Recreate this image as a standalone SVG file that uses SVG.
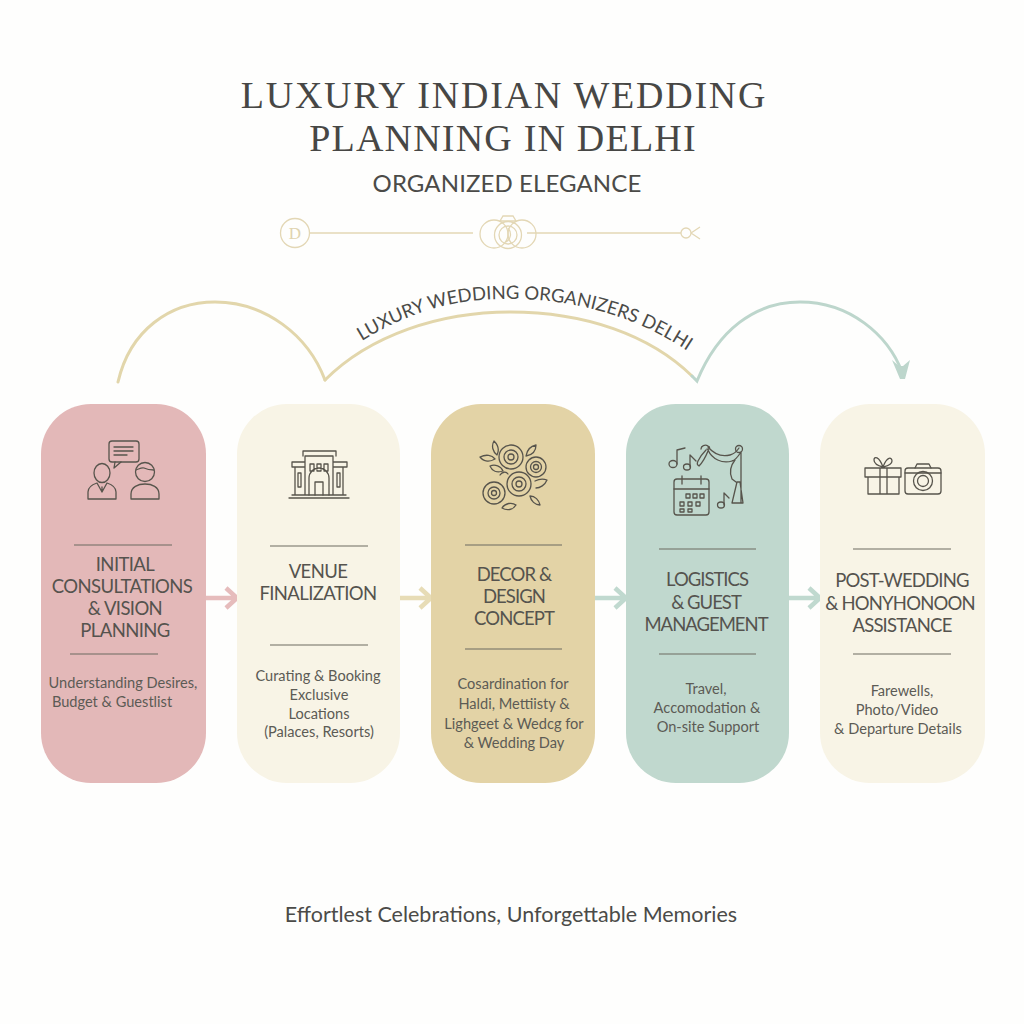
<svg xmlns="http://www.w3.org/2000/svg" width="1024" height="1024" viewBox="0 0 1024 1024">
<style>
text{font-family:"Lato","Liberation Sans",sans-serif;text-anchor:middle;fill:#4b4b48}
.t{font-family:"Liberation Serif","DejaVu Serif",serif;font-size:38px;fill:#474745}
.h{font-size:18.5px;fill:#55534e;letter-spacing:-0.6px}
.b{font-size:14.6px;fill:#5c5b55}
.d{stroke:#6d6a61;stroke-width:1.2;fill:none}
.i{fill:none;stroke:#57544c;stroke-width:1.3;stroke-linejoin:round;stroke-linecap:round}
.g{fill:none;stroke:#e3d7b5;stroke-width:1.3}
.arc{fill:none;stroke-width:3;stroke-linecap:round}
.ar{fill:none;stroke-width:4.5;stroke-linecap:butt}
</style>
<rect width="1024" height="1024" fill="#fefefd"/>
<g id="title">
<text class="t" x="504" y="108" letter-spacing="1.75">LUXURY INDIAN WEDDING</text>
<text class="t" x="503" y="151" letter-spacing="1.2">PLANNING IN DELHI</text>
<text x="507" y="192" font-size="24" fill="#5c5c5a" letter-spacing="0.1">ORGANIZED ELEGANCE</text>
</g>
<g id="ornament">
<circle class="g" cx="295" cy="233" r="14.5"/>
<text x="295" y="239" font-size="17" style="font-family:'Liberation Serif',serif;fill:#e0d4b0">D</text>
<path class="g" d="M310 233H473M527 233H681" stroke-width="1.6"/>
<circle class="g" cx="494" cy="234" r="14"/>
<circle class="g" cx="522" cy="234" r="14"/>
<circle class="g" cx="508" cy="235" r="13.5"/>
<circle class="g" cx="508" cy="235" r="9"/>
<path class="g" d="M500 221l3-5h10l3 5zM508 228c4 5 3 11-2 14"/>
<circle class="g" cx="686" cy="233" r="5"/>
<path class="g" d="M691 233l9-6M691 233l9 6"/>
</g>
<g id="connectors">
<path class="arc" stroke="#e2d6ab" d="M118 382C130 330 170 302 215 302C265 302 308 335 325 380"/>
<path class="arc" stroke="#e2d6ab" d="M325 380C370 335 440 312 510 312C585 312 650 335 692 376"/>
<path class="arc" stroke="#bdd6cc" d="M692 376L697 381C718 330 755 302 800 302C850 302 888 335 902 372"/>
<path fill="#bdd6cc" d="M892 360L899 366L903 366L910 360L905 379L900 379Z"/>
<path id="curve" fill="none" d="M357 344C420 304 470 298 515 299C580 300 640 318 692 354"/>
<text font-size="18.5" fill="#555553"><textPath href="#curve" startOffset="50%">LUXURY WEDDING ORGANIZERS DELHI</textPath></text>
<path class="ar" stroke="#e6bcbc" d="M206 598H236M226 588L237 598L226 608"/>
<path class="ar" stroke="#e7dcb6" d="M400 598H430M420 588L431 598L420 608"/>
<path class="ar" stroke="#c0d9cf" d="M595 598H625M615 588L626 598L615 608"/>
<path class="ar" stroke="#c0d9cf" d="M789 598H819M809 588L820 598L809 608"/>
</g>
<g id="node1">
<rect x="41" y="404" width="165" height="379" rx="50" fill="#e3b8b8"/>
<g class="i">
<rect x="109" y="441" width="30" height="21" rx="3"/><path d="M115 462l-1 6 7-6M114 447h19M114 451h19M114 455h13"/>
<ellipse cx="102" cy="473" rx="8" ry="9.5"/><path d="M88 499v-7c0-6 6-8 9-9l5 9 5-9c3 1 9 3 9 9v7zM102 492v-5"/>
<circle cx="145" cy="472" r="9.5"/><path d="M136 470c3-1 6-3 8-2s6 2 10 2M131 499v-5c0-7 7-10 14-10s14 3 14 10v5z"/>
</g>
<path class="d" d="M74 545H172"/>
<text class="h"><tspan x="125" y="571">INITIAL</tspan><tspan x="122" y="593">CONSULTATIONS</tspan><tspan x="125" y="615">&amp; VISION</tspan><tspan x="125" y="637">PLANNING</tspan></text>
<path class="d" d="M70 654H158"/>
<text class="b"><tspan x="123" y="688">Understanding Desires,</tspan><tspan x="112" y="707">Budget &amp; Guestlist</tspan></text>
</g>
<g id="node2">
<rect x="237" y="404" width="163" height="379" rx="50" fill="#f8f4e6"/>
<g class="i">
<path d="M289 498H349M292 495H346M295 495V467H305V495M333 495V467H343V495M292 467H305M333 467H347V462H333M305 462H292V467M305 495V456H333V495M303 456V451H336V456M305 462H292"/>
<path d="M309 495V478a10 10 0 0 1 20 0V495M315 495V482H323V495M310 464h4v7h-4zM317 464h4v7h-4zM324 464h4v7h-4zM298 473h3v14h-3zM337 473h3v14h-3z"/>
</g>
<path class="d" d="M270 546H368"/>
<text class="h"><tspan x="318" y="578">VENUE</tspan><tspan x="318" y="600">FINALIZATION</tspan></text>
<path class="d" d="M270 645H368"/>
<text class="b"><tspan x="318" y="681">Curating &amp; Booking</tspan><tspan x="319" y="700">Exclusive</tspan><tspan x="319" y="719">Locations</tspan><tspan x="319" y="737">(Palaces, Resorts)</tspan></text>
</g>
<g id="node3">
<rect x="431" y="404" width="164" height="379" rx="50" fill="#e3d3a6"/>
<g class="i">
<circle cx="511" cy="457" r="12"/><circle cx="511" cy="457" r="7"/><circle cx="511" cy="457" r="3"/>
<circle cx="536" cy="467" r="10"/><circle cx="536" cy="467" r="5.5"/><circle cx="536" cy="467" r="2.5"/>
<circle cx="519" cy="484" r="12"/><circle cx="519" cy="484" r="7"/><circle cx="519" cy="484" r="3"/>
<circle cx="494" cy="493" r="11"/><circle cx="494" cy="493" r="6"/><circle cx="494" cy="493" r="2.5"/>
<path d="M494 441c5 5 5 10 3 14c-4-3-6-9-3-14zM480 457c6-3 12-2 15 2c-5 3-11 3-15-2zM526 456c1-6 5-10 10-11c0 6-4 10-10 11zM490 466c5-2 11 0 13 5c-6 2-11 0-13-5zM535 481c4-2 9-2 12-1c-2 5-7 8-11 8M516 505c-4-3-11-2-14 3c5 3 11 2 14-3zM530 496c5 0 9 4 10 9c-5 0-9-4-10-9zM500 475c2-3 6-4 8-1"/>
</g>
<path class="d" d="M465 545H562"/>
<text class="h" style="letter-spacing:-0.9px"><tspan x="514" y="581">DECOR &amp;</tspan><tspan x="514" y="603">DESIGN</tspan><tspan x="514" y="625">CONCEPT</tspan></text>
<path class="d" d="M465 649H562"/>
<text class="b"><tspan x="513" y="689">Cosardination for</tspan><tspan x="514" y="709">Haldi, Mettiisty &amp;</tspan><tspan x="514" y="729">Lighgeet &amp; Wedcg for</tspan><tspan x="514" y="748">&amp; Wedding Day</tspan></text>
</g>
<g id="node4">
<rect x="626" y="404" width="163" height="379" rx="50" fill="#c0d8ce"/>
<g class="i">
<rect x="674" y="479" width="35" height="36" rx="3"/><path d="M674 489H709M682 476v8M701 476v8M686 494h4v4h-4zM693 494h4v4h-4zM700 494h4v4h-4zM680 502h4v4h-4zM688 502h4v4h-4zM696 502h4v4h-4zM680 509h4v3h-4zM688 509h4v3h-4z"/>
<ellipse cx="673" cy="464" rx="4" ry="3.5"/><path d="M677 464V450L685 448"/><ellipse cx="687" cy="467" rx="3.5" ry="3"/><path d="M690 467V455L696 461"/>
<ellipse cx="721" cy="505" rx="3.5" ry="3"/><path d="M724 505V493L729 498"/>
<circle cx="739" cy="449" r="3.5"/>
<path d="M701 449c0-3 4-5 7-3c3 1 1 4-1 3M708 447c6 7 14 10 22 8c4-1 7-4 9-7M708 450c4 9 14 14 24 11c4-1 7-6 9-9M708 451c-2 5-5 11-9 15c-2-1-2-3-1-5c2-4 5-8 8-11M741 453V503M735 460c-4 5-6 12-3 19l4 3M737 482L732 503H743L740 482Z"/>
</g>
<path class="d" d="M659 549H756"/>
<text class="h" style="letter-spacing:-1px"><tspan x="707" y="586">LOGISTICS</tspan><tspan x="706" y="609">&amp; GUEST</tspan><tspan x="706" y="631">MANAGEMENT</tspan></text>
<path class="d" d="M659 654H756"/>
<text class="b"><tspan x="706" y="694">Travel,</tspan><tspan x="707" y="713">Accomodation &amp;</tspan><tspan x="708" y="732">On-site Support</tspan></text>
</g>
<g id="node5">
<rect x="820" y="404" width="165" height="379" rx="50" fill="#f8f4e6"/>
<g class="i">
<path d="M865 468H901V477H865zM868 477V494H899V477M880 468V494M887 468V494M883 467c-4-1-9-3-9-7s5-4 9 7c4-11 9-10 9-6s-5 5-9 6"/>
<rect x="905" y="468" width="36" height="26" rx="3"/><path d="M915 468l2-4h12l2 4M905 473h36"/><circle cx="923" cy="481" r="9.5"/><circle cx="923" cy="481" r="5.5"/>
</g>
<path class="d" d="M853 549H951"/>
<text class="h" style="letter-spacing:-0.8px"><tspan x="902" y="587">POST-WEDDING</tspan><tspan x="900" y="610">&amp; HONYHONOON</tspan><tspan x="902" y="632">ASSISTANCE</tspan></text>
<path class="d" d="M853 654H951"/>
<text class="b"><tspan x="902" y="696">Farewells,</tspan><tspan x="897" y="715">Photo/Video</tspan><tspan x="898" y="734">&amp; Departure Details</tspan></text>
</g>
<text id="tagline" x="511" y="922" font-size="21.5" fill="#5e5e5c">Effortlest Celebrations, Unforgettable Memories</text>
</svg>
